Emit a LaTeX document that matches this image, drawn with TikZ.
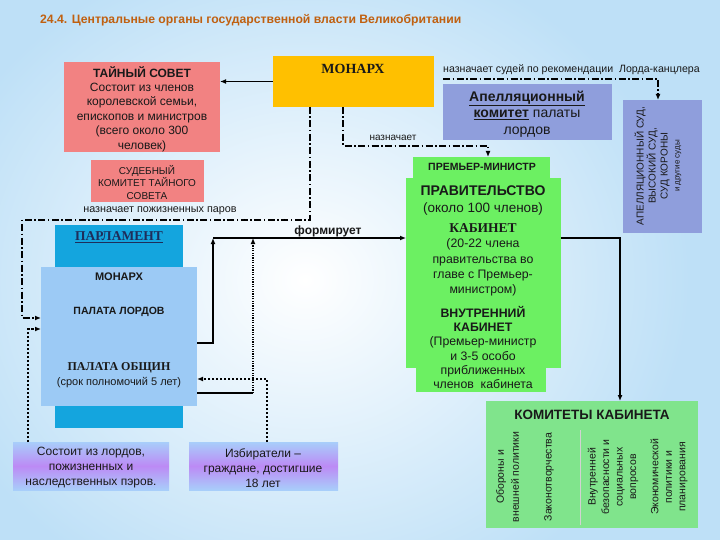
\documentclass[tikz,border=0pt]{standalone}
\usepackage{fontspec}
\setmainfont{Liberation Sans}
\newfontfamily\serifrm{Liberation Serif}
\usetikzlibrary{arrows.meta,calc}
\definecolor{bgblue}{RGB}{190,224,247}
\definecolor{monarchc}{RGB}{255,192,0}
\definecolor{salmon}{RGB}{242,130,130}
\definecolor{courtc}{RGB}{143,158,220}
\definecolor{govgreen}{RGB}{108,240,98}
\definecolor{comgreen}{RGB}{128,228,140}
\definecolor{parldark}{RGB}{20,165,222}
\definecolor{parllight}{RGB}{156,202,245}
\definecolor{titlec}{RGB}{192,96,16}
\definecolor{navy}{RGB}{30,45,90}
\definecolor{txt}{RGB}{25,25,25}
\definecolor{gradblue}{RGB}{168,206,250}
\definecolor{gradviolet}{RGB}{188,138,245}
\newcommand\fs[2]{\fontsize{#1}{#2}\selectfont}
\begin{document}
\begin{tikzpicture}[x=1pt,y=-1pt,
  box/.style={anchor=north west, inner sep=0pt, outer sep=0pt, draw=none},
  txtn/.style={inner sep=0pt, align=center, text=txt},
  arr/.style={-{Latex[length=6pt,width=5pt]}},
  ddot/.style={line width=1.5pt, dash pattern=on 7pt off 2.5pt on 1.5pt off 2.5pt},
  solidl/.style={line width=1.6pt},
  dotl/.style={line width=1.8pt, dash pattern=on 1.2pt off 1.2pt},
  dashl/.style={line width=1.6pt, dash pattern=on 2.5pt off 1.5pt},
  grad/.style={box, top color=gradblue, bottom color=gradblue, middle color=gradviolet}
]
\useasboundingbox (0,0) rectangle (720,540);
\begin{scope}
\clip (0,0) rectangle (720,540);
\fill[bgblue] (0,0) rectangle (720,540);
\shade[inner color=white, outer color=bgblue] (-80,-60) rectangle (690,620);
\end{scope}

% title
\node[anchor=west, inner sep=0pt, text=titlec, font=\bfseries\fs{12.2}{14}] (title) at (40,20)
  {24.4. Центральные органы государственной власти Великобритании};

% boxes
\node[box, fill=monarchc, minimum width=161, minimum height=51] (monarch) at (273,56) {};
\node[box, fill=salmon, minimum width=156, minimum height=90] (tsovet) at (64,62) {};
\node[box, fill=salmon, minimum width=113, minimum height=42] (sudkom) at (91,160) {};
\node[box, fill=courtc, minimum width=169, minimum height=56] (apel) at (443,84) {};
\node[box, fill=courtc, minimum width=79, minimum height=133] (court) at (623,100) {};
\node[box, fill=govgreen, minimum width=137, minimum height=22] (govhead) at (413,157) {};
\node[box, fill=govgreen, minimum width=155, minimum height=190] (gov) at (406,178) {};
\node[box, fill=govgreen, minimum width=130, minimum height=25] (govfoot) at (416,367) {};
\node[box, fill=parldark, minimum width=128, minimum height=203] (parlout) at (55,225) {};
\node[box, fill=parllight, minimum width=156, minimum height=139] (parlin) at (41,267) {};
\node[grad, minimum width=156, minimum height=48] (sost) at (13,442) {};
\node[grad, minimum width=149, minimum height=48] (izb) at (189,442) {};
\node[box, fill=comgreen, minimum width=212, minimum height=127] (komit) at (486,401) {};
\draw[white!65!gray, line width=0.8pt] (580,430) -- (580,525);

% texts
\node[txtn, font=\serifrm\bfseries\fs{14}{15}] (monarchT) at (353,69) {МОНАРХ};
\node[txtn, font=\fs{12}{14.4}] (tsT) at (142,109)
  {{\bfseries ТАЙНЫЙ СОВЕТ}\\Состоит из членов\\королевской семьи,\\епископов и министров\\(всего около 300\\человек)};
\node[txtn, font=\fs{10}{12.5}] (sudT) at (147,182.5) {СУДЕБНЫЙ\\КОМИТЕТ ТАЙНОГО\\СОВЕТА};
\node[txtn, font=\fs{10.8}{12}] (pozhT) at (160,211) {назначает пожизненных паров};
\node[txtn, font=\fs{10}{11}] (naznT) at (393,138) {назначает};
\node[txtn, font=\fs{10.6}{12}, anchor=west] (sudeyT) at (443,70) {назначает судей по рекомендации\ \ Лорда-канцлера};
\node[txtn, font=\fs{14}{16.5}] (apelT) at (527,114)
  {\textbf{\underline{Апелляционный}}\\\textbf{\underline{комитет}} палаты\\лордов};
\node[txtn, rotate=90, font=\fs{10}{12}] (courtT) at (658,166)
  {АПЕЛЛЯЦИОННЫЙ СУД,\\ВЫСОКИЙ СУД,\\СУД КОРОНЫ\\{\fs{8}{11}и другие суды}};
\node[txtn, font=\bfseries\fs{10.5}{11}] (pmT) at (482,167) {ПРЕМЬЕР-МИНИСТР};
\node[txtn, font=\fs{13.5}{17}] (govT) at (483,200.5)
  {{\bfseries\fs{14}{17}ПРАВИТЕЛЬСТВО}\\(около 100 членов)};
\node[txtn, font=\fs{12.3}{15.4}] (kabT) at (483,260)
  {{\serifrm\bfseries\fs{13.5}{15.4}КАБИНЕТ}\\(20-22 члена\\правительства во\\главе с Премьер-\\министром)};
\node[txtn, font=\fs{12.3}{14.2}] (vnutT) at (483,347.5)
  {{\bfseries ВНУТРЕННИЙ}\\{\bfseries КАБИНЕТ}\\(Премьер-министр\\и 3-5 особо\\приближенных\\членов\ \ кабинета};
\node[txtn, font=\serifrm\bfseries\fs{13.5}{14}, text=navy] (parlT) at (119,237) {\underline{ПАРЛАМЕНТ}};
\node[txtn, font=\bfseries\fs{11}{13}] (pmonT) at (119,277) {МОНАРХ};
\node[txtn, font=\bfseries\fs{10.5}{13}] (plordT) at (119,312) {ПАЛАТА ЛОРДОВ};
\node[txtn, font=\serifrm\bfseries\fs{12}{13}] (pobT) at (119,368) {ПАЛАТА ОБЩИН};
\node[txtn, font=\fs{11}{12}] (srokT) at (119,383) {(срок полномочий 5 лет)};
\node[txtn, font=\bfseries\fs{12}{13}] (formT) at (328,231) {формирует};
\node[txtn, font=\fs{12}{15}] (sostT) at (91,468) {Состоит из лордов,\\пожизненных и\\наследственных пэров.};
\node[txtn, font=\fs{12}{15}] (izbT) at (263,468) {Избиратели –\\граждане, достигшие\\18 лет};
\node[txtn, font=\bfseries\fs{13.5}{15}] (komT) at (592,415) {КОМИТЕТЫ КАБИНЕТА};
\node[txtn, rotate=90, font=\fs{10.5}{15}] (k1) at (507.5,477) {Обороны и\\внешней политики};
\node[txtn, rotate=90, font=\fs{10.5}{15}] (k2) at (549,477) {Законотворчества};
\node[txtn, rotate=90, font=\fs{10.5}{13.5}] (k3) at (613,477) {Внутренней\\безопасности и\\социальных\\вопросов};
\node[txtn, rotate=90, font=\fs{10.5}{13.5}] (k4) at (669,477) {Экономической\\политики и\\планирования};

% connectors
\coordinate (lpTurn) at (22,220);
\coordinate (pmTurn) at (488,146);
\coordinate (sudStart) at (443,79);
\coordinate (formL) at (213,238);
\coordinate (dotB) at (253,393);
\draw[solidl, arr] (monarch.west) -- (tsovet.east |- monarch.west);
\draw[ddot, arr] ($(monarch.south west)+(37,0)$) |- (lpTurn) |- (parlin.west |- 0,318);
\draw[ddot, arr] ($(monarch.south west)+(70,0)$) |- (pmTurn) -- (govhead.north -| pmTurn);
\draw[ddot, arr] (sudStart) -| (court.north -| 658,0);
\draw[solidl, arr] (parlin.east |- 0,343) -| (formL);
\draw[solidl, arr] (formL) -- (gov.west |- formL);
\draw[solidl] (parlin.east |- dotB) -- (dotB);
\draw[dotl, arr] (dotB) -- (dotB |- formL);
\draw[dashl, arr] (izb.north -| 267,0) |- (parlin.east |- 0,379);
\draw[dashl, arr] (sost.north -| 28,0) |- (parlin.west |- 0,329);
\draw[solidl, arr] (gov.east |- formL) -| (komit.north -| 620,0);
\end{tikzpicture}
\end{document}
